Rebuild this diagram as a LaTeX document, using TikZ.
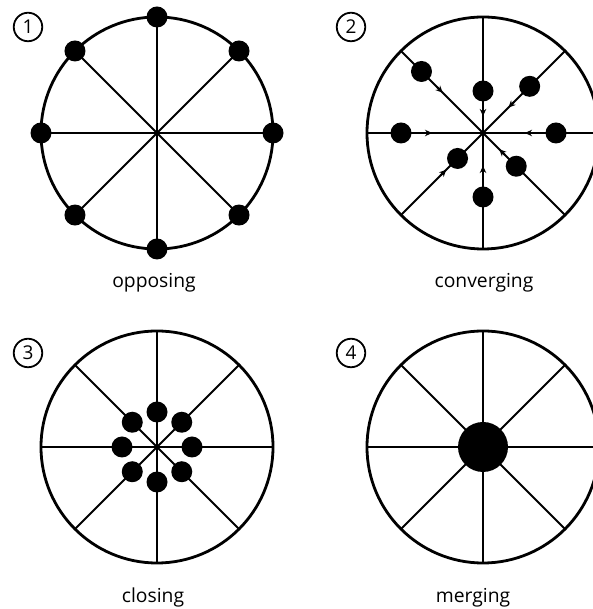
\documentclass[tikz,border=0pt]{standalone}
\usepackage{fontspec}
\setmainfont{Open Sans}
\usetikzlibrary{arrows.meta,calc}
\begin{document}
\begin{tikzpicture}[x=1pt,y=1pt,
  rim/.style={line width=2.8pt},
  spoke/.style={line width=1.9pt},
  dot/.style={circle,fill=black,inner sep=0pt,minimum size=21pt},
  bigdot/.style={circle,fill=black,inner sep=0pt,minimum size=50pt},
  badge/.style={circle,draw,line width=1.8pt,minimum size=28.5pt,inner sep=0pt,font=\fontsize{19}{20}\selectfont},
  caption/.style={anchor=base,inner sep=0pt,font=\fontsize{19.3}{23}\selectfont},
  flow/.style={line width=1.9pt,-{Stealth[length=7pt,width=6.5pt]}}]
\useasboundingbox (0,0) rectangle (592,609);
% centres
\coordinate (c1) at (157,476);
\coordinate (c2) at (483,476);
\coordinate (c3) at (157,162);
\coordinate (c4) at (483,162);
% spokes and rims
\foreach \c in {c1,c2,c3,c4}{
  \foreach \a in {0,45,...,315}
    \draw[spoke] (\c) -- ($(\c)+(\a:116)$);
  \draw[rim] (\c) circle[radius=116];
}
% 1 opposing
\foreach \a [count=\i] in {0,45,...,315}
  \node[dot] (p\i) at ($(c1)+(\a:116)$) {};
% 2 converging
\foreach \a/\r/\t [count=\i] in {0/73/42,45/66/36,90/42/17,135/87/57,180/82/51,225/36/52,270/64/33,315/47/23}{
  \node[dot] (q\i) at ($(c2)+(\a:\r)$) {};
  \coordinate (qs\i) at ($(c2)+(\a:\t+8)$);
  \coordinate (qt\i) at ($(c2)+(\a:\t)$);
  \draw[flow] (qs\i) -- (qt\i);
}
% 3 closing
\foreach \a [count=\i] in {0,45,...,315}
  \node[dot] (r\i) at ($(c3)+(\a:35)$) {};
% 4 merging
\node[bigdot] (m) at (c4) {};
% badges
\node[badge] (b1) at (28,582) {1};
\node[badge] (b2) at (351,582) {2};
\node[badge] (b3) at (28,256) {3};
\node[badge] (b4) at (351,256) {4};
% captions
\node[caption] (t1) at (154,321) {opposing};
\node[caption] (t2) at (484,321) {converging};
\node[caption] (t3) at (153,6) {closing};
\node[caption] (t4) at (473,6) {merging};
\end{tikzpicture}
\end{document}
